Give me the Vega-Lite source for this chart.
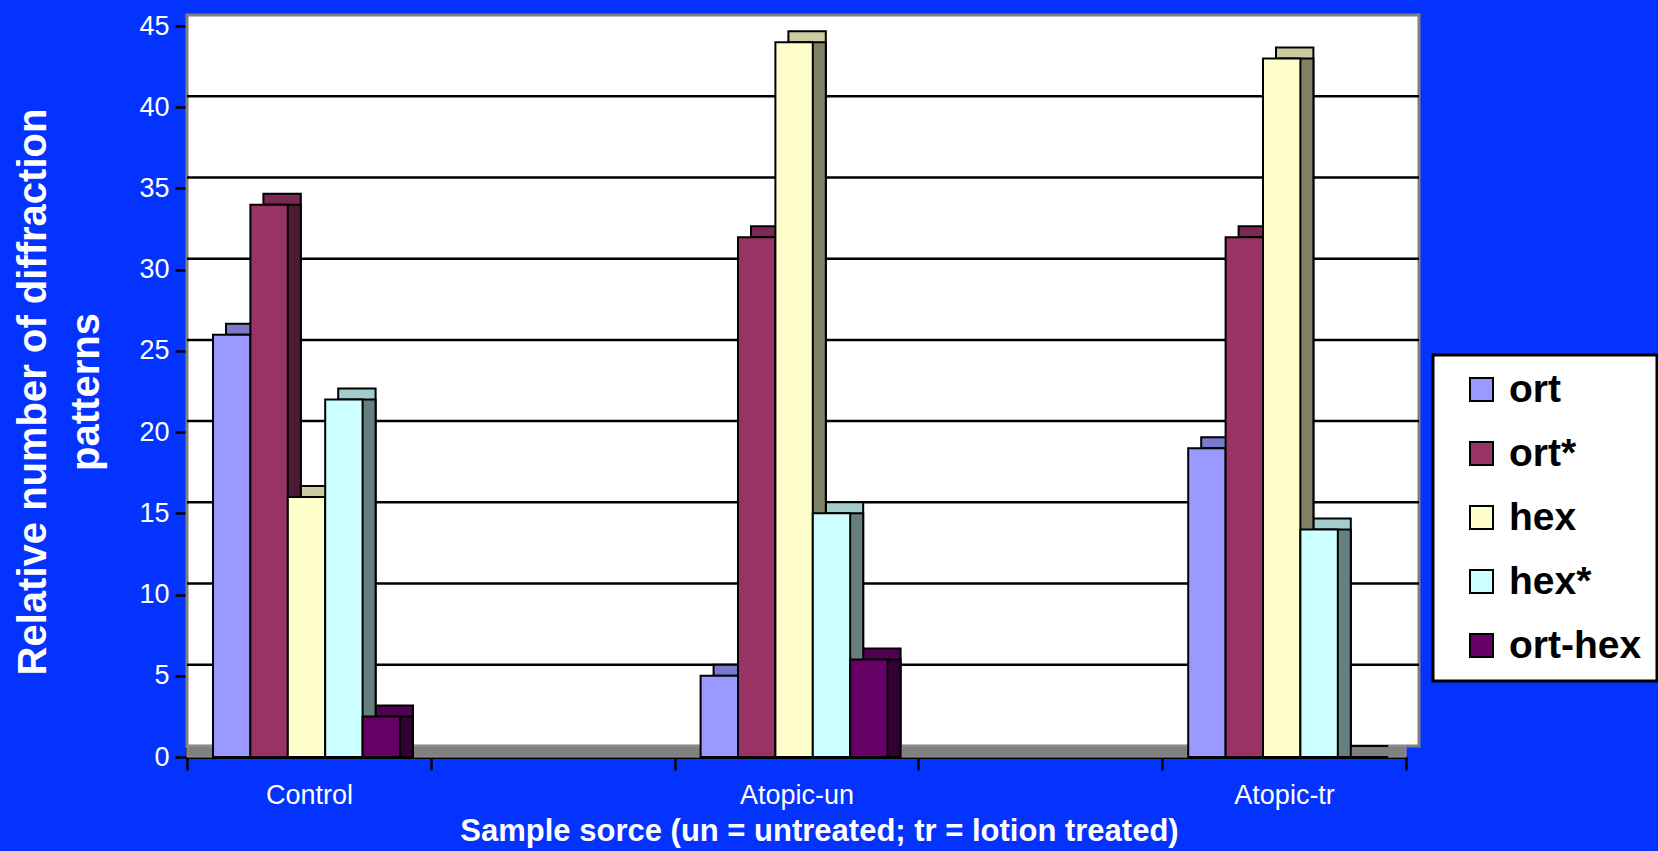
{
  "$schema": "https://vega.github.io/schema/vega-lite/v6.json",
  "width": 1219,
  "height": 731,
  "autosize": {"type": "none"},
  "padding": {"left": 187, "top": 26, "right": 252, "bottom": 94},
  "background": "#0433ff",
  "config": {
    "view": {"stroke": null, "fill": "white"},
    "font": "Liberation Sans",
    "axis": {"grid": false},
    "legend": {"strokeWidth": 3}
  },
  "datasets": {
    "bars": [
      {"cat": "Control", "series": "ort", "value": 26},
      {"cat": "Control", "series": "ort*", "value": 34},
      {"cat": "Control", "series": "hex", "value": 16},
      {"cat": "Control", "series": "hex*", "value": 22},
      {"cat": "Control", "series": "ort-hex", "value": 2.5},
      {"cat": "Atopic-un", "series": "ort", "value": 5},
      {"cat": "Atopic-un", "series": "ort*", "value": 32},
      {"cat": "Atopic-un", "series": "hex", "value": 44},
      {"cat": "Atopic-un", "series": "hex*", "value": 15},
      {"cat": "Atopic-un", "series": "ort-hex", "value": 6},
      {"cat": "Atopic-tr", "series": "ort", "value": 19},
      {"cat": "Atopic-tr", "series": "ort*", "value": 32},
      {"cat": "Atopic-tr", "series": "hex", "value": 43},
      {"cat": "Atopic-tr", "series": "hex*", "value": 14},
      {"cat": "Atopic-tr", "series": "ort-hex", "value": 0}
    ],
    "grid": [{"v": 5}, {"v": 10}, {"v": 15}, {"v": 20}, {"v": 25}, {"v": 30}, {"v": 35}, {"v": 40}]
  },
  "resolve": {"scale": {"xOffset": "independent", "color": "independent"}},
  "layer": [
    {
      "data": {"values": [{}]},
      "mark": {"type": "rect", "fill": "white", "stroke": "#808080", "strokeWidth": 3, "xOffset": 13, "x2Offset": 13, "yOffset": -11, "y2Offset": -11},
      "encoding": {
        "y": {"datum": 45, "type": "quantitative"},
        "y2": {"datum": 0}
      }
    },
    {
      "data": {"name": "grid"},
      "mark": {"type": "rule", "stroke": "black", "strokeWidth": 2.5, "xOffset": 13, "x2Offset": 13, "yOffset": -11, "y2Offset": -11},
      "encoding": {
        "y": {"field": "v", "type": "quantitative"}
      }
    },
    {
      "data": {"values": [{}]},
      "mark": {"type": "rect", "fill": "#808080", "stroke": "#999999", "strokeWidth": 1, "xOffset": 0, "x2Offset": 13, "yOffset": -11, "y2Offset": 0},
      "encoding": {
        "y": {"datum": 0, "type": "quantitative"},
        "y2": {"datum": 0}
      }
    },
    {
      "data": {"name": "bars"},
      "mark": {"type": "bar", "stroke": "black", "strokeWidth": 2, "yOffset": -11, "y2Offset": -11},
      "encoding": {
        "x": {"field": "cat", "type": "nominal", "scale": {"domain": ["Control", "gap1", "Atopic-un", "gap2", "Atopic-tr"], "paddingInner": 0, "paddingOuter": 0}},
        "xOffset": {"field": "series", "type": "nominal", "scale": {"domain": ["ort", "ort*", "hex", "hex*", "ort-hex"], "range": [39, 226], "paddingInner": 0, "paddingOuter": 0}},
        "y": {"field": "value", "type": "quantitative"},
        "color": {"field": "series", "type": "nominal", "legend": null, "scale": {"domain": ["ort", "ort*", "hex", "hex*", "ort-hex"], "range": ["#7a7acc", "#7a2952", "#cccca3", "#a3cccc", "#520052"]}}
      }
    },
    {
      "data": {"name": "bars"},
      "mark": {"type": "bar", "stroke": "black", "strokeWidth": 2, "yOffset": 0, "y2Offset": -11},
      "encoding": {
        "x": {"field": "cat", "type": "nominal"},
        "xOffset": {"field": "series", "type": "nominal", "scale": {"domain": ["ort", "ort*", "hex", "hex*", "ort-hex"], "range": [39, 226], "paddingInner": 0, "paddingOuter": 0}},
        "y": {"field": "value", "type": "quantitative"},
        "color": {"field": "series", "type": "nominal", "legend": null, "scale": {"domain": ["ort", "ort*", "hex", "hex*", "ort-hex"], "range": ["#4d4d80", "#4d1933", "#808066", "#668080", "#330033"]}}
      }
    },
    {
      "data": {"name": "bars"},
      "mark": {"type": "bar", "stroke": "black", "strokeWidth": 2},
      "encoding": {
        "x": {
          "field": "cat", "type": "nominal",
          "axis": {
            "title": "Sample sorce (un = untreated; tr = lotion treated)",
            "titleFontSize": 31, "titleFontWeight": "bold", "titleColor": "white",
            "titleX": 632, "titleY": 59,
            "labelExpr": "datum.value == 'gap1' || datum.value == 'gap2' ? '' : datum.value",
            "labelAngle": 0, "labelAlign": "center", "labelFontSize": 27, "labelColor": "white", "labelPadding": 25, "labelDx": -4,
            "tickBand": "extent", "tickSize": 13, "tickColor": "black", "tickWidth": 2.5,
            "domainColor": "black", "domainWidth": 3
          }
        },
        "xOffset": {"field": "series", "type": "nominal", "scale": {"domain": ["ort", "ort*", "hex", "hex*", "ort-hex"], "range": [26, 213], "paddingInner": 0, "paddingOuter": 0}},
        "y": {
          "field": "value", "type": "quantitative",
          "scale": {"domain": [0, 45], "nice": false},
          "axis": {
            "title": ["Relative number of diffraction", "patterns"],
            "titleFontSize": 40, "titleFontWeight": "bold", "titleColor": "white", "titleLineHeight": 53, "titlePadding": 32,
            "values": [0, 5, 10, 15, 20, 25, 30, 35, 40, 45],
            "labelFontSize": 27, "labelColor": "white", "labelPadding": 6,
            "tickSize": 12, "tickColor": "black", "tickWidth": 2.5,
            "domainColor": "black", "domainWidth": 3
          }
        },
        "color": {
          "field": "series", "type": "nominal",
          "scale": {"domain": ["ort", "ort*", "hex", "hex*", "ort-hex"], "range": ["#9999ff", "#993366", "#ffffcc", "#ccffff", "#660066"]},
          "legend": {
            "title": null, "orient": "none", "legendX": 1246, "legendY": 329,
            "fillColor": "white", "strokeColor": "black", "padding": 15,
            "symbolType": "square", "symbolSize": 529, "symbolStrokeColor": "black", "symbolStrokeWidth": 2, "symbolOpacity": 1, "symbolOffset": 14,
            "labelFont": "Liberation Sans", "labelFontWeight": "bold", "labelFontSize": 39, "labelColor": "black", "labelOffset": 8,
            "labelExpr": "datum.label + '          '", "labelLimit": 400,
            "rowPadding": 24
          }
        }
      }
    }
  ]
}
